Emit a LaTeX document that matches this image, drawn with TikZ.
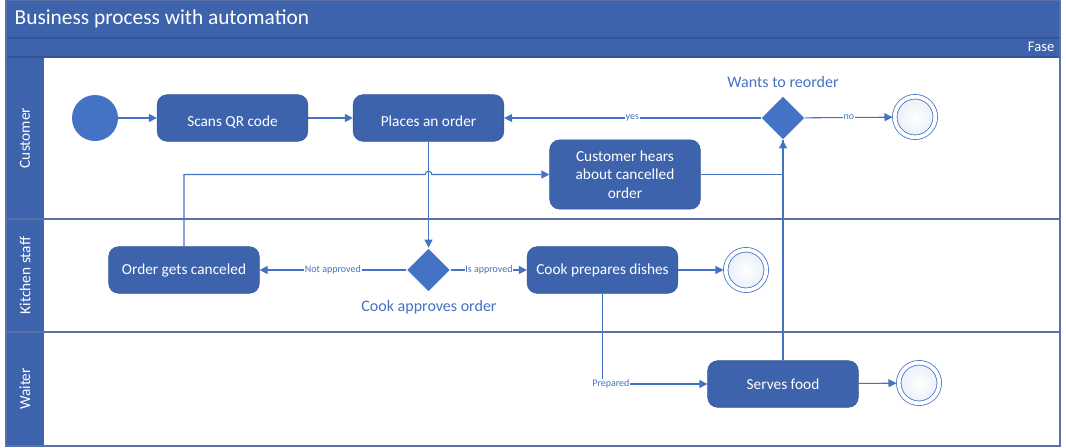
\documentclass[tikz,border=0pt]{standalone}
\usepackage{fontspec}
\setmainfont{Carlito}
\usetikzlibrary{shapes.geometric,arrows.meta}
\definecolor{laneblue}{HTML}{3E63AD}
\definecolor{bpmblue}{HTML}{4472C4}
\definecolor{frameline}{HTML}{5C6FA6}
\definecolor{barline}{HTML}{34559A}

\begin{document}
\begin{tikzpicture}[x=0.75pt,y=0.75pt,
        activity/.style={rectangle, rounded corners=7.5pt, fill=laneblue, draw=laneblue!90!black, text=white, font=\fontsize{11.5}{14}\selectfont, minimum width=113pt, minimum height=35pt, inner sep=2pt},
        gateway/.style={diamond, fill=bpmblue, draw=white, line width=0.6pt, inner sep=0pt, minimum width=33pt, minimum height=33pt},
        startev/.style={circle, fill=bpmblue, inner sep=0pt, minimum size=34.5pt},
        endev/.style={circle, draw=bpmblue, line width=0.6pt, double=white, double distance=2.8pt, inner color=white, outer color=bpmblue!12, inner sep=0pt, minimum size=30.4pt, outer sep=1.7pt},
        flow/.style={draw=bpmblue, line width=0.8pt, -{Triangle[length=6pt,width=6pt]}},
        flowline/.style={draw=bpmblue, line width=0.8pt},
        flowlabel/.style={fill=white, text=bpmblue, font=\fontsize{7.5}{9}\selectfont, inner sep=0.6pt},
        gatelabel/.style={text=bpmblue, font=\fontsize{12}{14}\selectfont},
        lanelabel/.style={rotate=90, text=white, font=\fontsize{11.5}{14}\selectfont}]
    \useasboundingbox (0,0) rectangle (1066,-447);
    \fill [laneblue] (6,0) rectangle (1060,-57);
    \fill [laneblue] (6,-57) rectangle (44,-446);
    \draw [barline, line width=0.8pt] (6,-38) -- (1060,-38);
    \draw [barline, line width=0.8pt] (6,-57) -- (1060,-57);
    \draw [frameline, line width=0.9pt] (6,-219) -- (1060,-219);
    \draw [frameline, line width=0.9pt] (6,-332) -- (1060,-332);
    \draw [frameline, line width=0.9pt] (6,0) rectangle (1060,-446);
    \node [anchor=west, text=white, font=\fontsize{16}{19}\selectfont] (title) at (10,-19) {Business process with automation};
    \node [anchor=east, text=white, font=\fontsize{11}{13}\selectfont] (phase) at (1059,-47) {Fase};
    \node [lanelabel] (laneC) at (25,-138) {Customer};
    \node [lanelabel] (laneK) at (25,-275.5) {Kitchen staff};
    \node [lanelabel] (laneW) at (25,-389) {Waiter};
    \node [startev] (start) at (95,-118) {};
    \node [activity] (scan) at (232.5,-118) {\raisebox{-6.5pt}[0pt][0pt]{Scans QR code}};
    \node [activity] (place) at (428.5,-118) {\raisebox{-6.5pt}[0pt][0pt]{Places an order}};
    \node [gateway] (reorder) at (783,-118) {};
    \node [gatelabel] (reorderlbl) at (783,-82) {Wants to reorder};
    \node [endev] (endC) at (915,-117) {};
    \node [activity, minimum height=52pt, align=center] (hear) at (625,-174.5) {Customer hears\\about cancelled\\order};
    \node [activity] (cancel) at (184,-270) {Order gets canceled};
    \node [gateway] (approve) at (428.5,-270) {};
    \node [gatelabel] (approvelbl) at (429,-307) {Cook approves order};
    \node [activity] (cook) at (602.5,-270) {Cook prepares dishes};
    \node [endev] (endK) at (746,-270) {};
    \node [activity] (serve) at (783,-384) {Serves food};
    \node [endev] (endW) at (919,-383) {};
    \coordinate (hop) at (place.south |- hear.west);
    \draw [flow] (start) -- (scan);
    \draw [flow] (scan) -- (place);
    \draw [flow] (reorder) -- node [flowlabel] {yes} (place);
    \draw [flow] (reorder) -- node [flowlabel] {no} (endC);
    \draw [flow] (place) -- (approve);
    \draw [flow] (approve) -- node [flowlabel] {Not approved} (cancel);
    \draw [flow] (approve) -- node [flowlabel] {Is approved} (cook);
    \draw [flow] (cook) -- (endK);
    \draw [flow] (cancel.north) |- ([xshift=-2.5pt]hop) arc [start angle=180, end angle=0, radius=2.5pt] -- (hear.west);
    \draw [flowline] (hear.east) -| (reorder.south);
    \draw [flow] (serve.north) -- (reorder.south);
    \draw [flow] (cook.south) |- node [flowlabel, pos=0.54] {Prepared} (serve.west);
    \draw [flow] (serve) -- (endW);
\end{tikzpicture}
\end{document}
